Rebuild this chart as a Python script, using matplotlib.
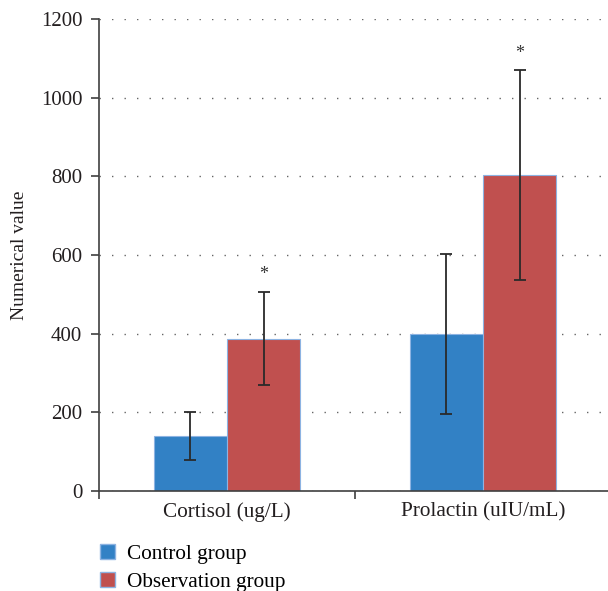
import matplotlib
matplotlib.use("Agg")
import matplotlib.pyplot as plt
from matplotlib.patches import Patch
import numpy as np

categories = ["Cortisol (ug/L)", "Prolactin (uIU/mL)"]
series_names = ["Control group", "Observation group"]
control_vals = [140, 399]
control_err = [62, 204]
obs_vals = [387, 803]
obs_err = [118, 267]
star_vals = [550, 1113]
yticks = [0, 200, 400, 600, 800, 1000, 1200]

blue = "#3281c5"
red = "#c0504f"
edge = "#8db3e2"

plt.rcParams['font.family'] = ['Liberation Serif', 'DejaVu Serif']

fig = plt.figure(figsize=(6.08, 5.91), dpi=100)
ax = fig.add_axes([99/608, 1-491/591, 512/608, 472/591])

x = np.arange(len(categories))
w = 0.287
errkw = dict(ecolor="#2a2a2a", elinewidth=1.3, capsize=4.5, capthick=1.3)
ax.bar(x - w/2, control_vals, w, yerr=control_err, color=blue, edgecolor=edge,
       linewidth=0.8, error_kw=errkw, zorder=2)
ax.bar(x + w/2, obs_vals, w, yerr=obs_err, color=red, edgecolor=edge,
       linewidth=0.8, error_kw=errkw, zorder=2)

for xi, s in zip(x, star_vals):
    ax.text(xi + w/2, s, "*", ha="center", va="center", fontsize=13, color="#333333")

ax.set_xlim(-0.5, 1.5)
ax.set_ylim(0, 1200)
ax.set_yticks(yticks)
ax.set_yticklabels([str(t) for t in yticks], fontsize=15, color="#231f20")
ax.set_xticks([-0.5, 0.5, 1.5])
ax.set_xticklabels([])
for xi, c in zip(x, categories):
    ax.text(xi, -0.024, c, transform=ax.get_xaxis_transform(), ha="center", va="top",
            fontsize=15.3, color="#231f20")

ax.yaxis.grid(True, linestyle=(0, (1, 8)), color="#666666", linewidth=1.0, zorder=0)
ax.set_axisbelow(True)
for sp in ["top", "right"]:
    ax.spines[sp].set_visible(False)
for sp in ["left", "bottom"]:
    ax.spines[sp].set_color("#404040")
    ax.spines[sp].set_linewidth(1.2)
ax.tick_params(axis="both", direction="out", length=6, width=1.2, color="#404040")
ax.tick_params(axis="y", pad=6)

ax.set_ylabel("Numerical value", fontsize=14, color="#231f20", labelpad=9)

handles = [Patch(facecolor=blue, edgecolor=edge, label=series_names[0]),
           Patch(facecolor=red, edgecolor=edge, label=series_names[1])]
fig.legend(handles=handles, loc="lower left", bbox_to_anchor=(81/608, -0.0335),
           frameon=False, fontsize=15.3, handlelength=0.72, handleheight=0.72,
           handletextpad=0.55, labelspacing=0.35)

fig.savefig("out.png", dpi=100)
